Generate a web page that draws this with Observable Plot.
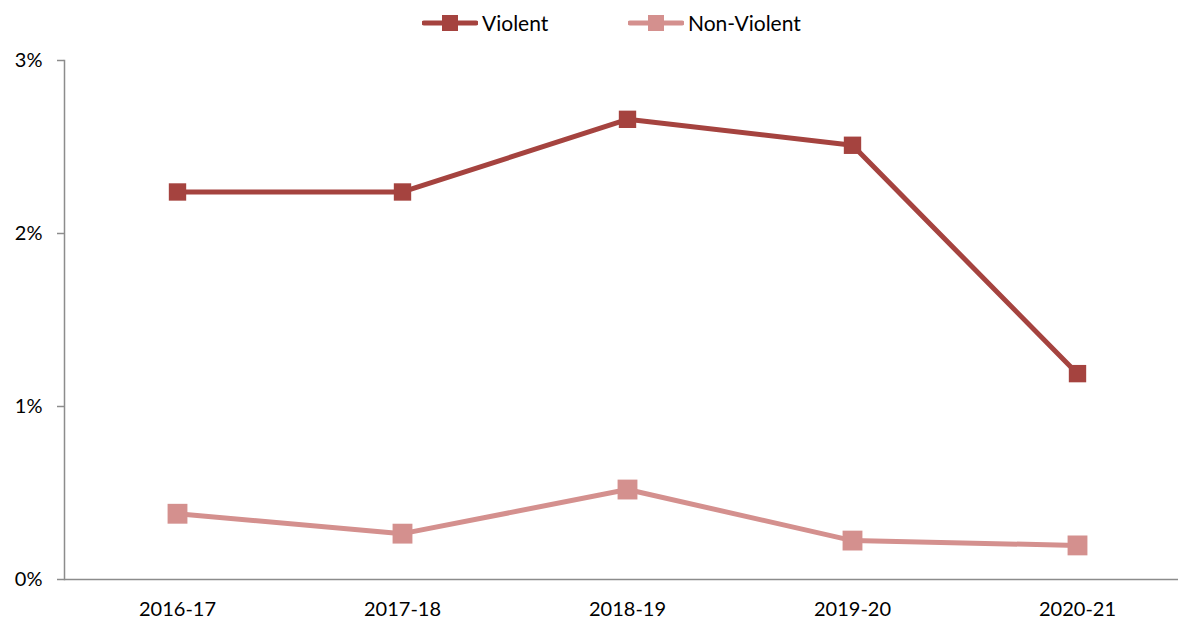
<!DOCTYPE html>
<html>
<head>
<meta charset="utf-8">
<script src="https://cdn.jsdelivr.net/npm/d3@7"></script>
<script src="https://cdn.jsdelivr.net/npm/@observablehq/plot@0.6"></script>
<style>
  html, body { margin: 0; padding: 0; background: #fff; }
  #wrap { width: 1178px; font-family: Lato, "Open Sans", sans-serif; color: #000; }
  #legend { position: relative; height: 45px; }
  .item { position: absolute; top: 10px; display: flex; align-items: center; font-size: 21px; }
  .item svg { margin-right: 4px; }
  #chart svg text { font-size: 20px; }
</style>
</head>
<body>
<div id="wrap">
  <div id="legend"></div>
  <div id="chart"></div>
</div>
<script>
const periods = ["2016-17", "2017-18", "2018-19", "2019-20", "2020-21"];
const violent = [2.24, 2.24, 2.66, 2.51, 1.19];
const nonViolent = [0.38, 0.265, 0.52, 0.225, 0.197];
const seriesNames = ["Violent", "Non-Violent"];
const seriesColors = ["#A5433F", "#D4908E"];
const yTicks = [0, 1, 2, 3];

const rows = [];
periods.forEach((p, i) => {
  rows.push({period: p, series: seriesNames[0], value: violent[i]});
  rows.push({period: p, series: seriesNames[1], value: nonViolent[i]});
});
const vRows = rows.filter(d => d.series === seriesNames[0]);
const nRows = rows.filter(d => d.series === seriesNames[1]);

// Legend
const legend = document.getElementById("legend");
const legendLeft = [422, 628];
seriesNames.forEach((name, i) => {
  const div = document.createElement("div");
  div.className = "item";
  div.style.left = legendLeft[i] + "px";
  div.innerHTML = `<svg width="56" height="20"><line x1="2" x2="54" y1="10" y2="10" stroke="${seriesColors[i]}" stroke-width="5" stroke-linecap="round"/><rect x="20" y="2" width="16" height="16" fill="${seriesColors[i]}"/></svg><span>${name}</span>`;
  legend.appendChild(div);
});

const chart = Plot.plot({
  width: 1178,
  height: 576,
  marginTop: 15,
  marginBottom: 42,
  marginLeft: 64,
  marginRight: 0,
  style: {fontFamily: "Lato, 'Open Sans', sans-serif", fontSize: "20px", color: "#000", background: "#fff"},
  x: {type: "point", domain: periods, range: [177, 1077], padding: 0, label: null},
  y: {domain: [0, 3], label: null},
  marks: [
    Plot.frame({anchor: "left", stroke: "#8c8c8c", strokeWidth: 1.5}),
    Plot.ruleY([0], {stroke: "#8c8c8c", strokeWidth: 1.5}),
    Plot.axisY({ticks: yTicks, tickFormat: d => d + "%", tickSize: 7, tickPadding: 15, stroke: "#8c8c8c", strokeWidth: 1.5, label: null, fontSize: 20}),
    Plot.axisX({tickSize: 0, tickPadding: 22, label: null, fontSize: 20}),
    Plot.line(vRows, {x: "period", y: "value", stroke: seriesColors[0], strokeWidth: 5}),
    Plot.line(nRows, {x: "period", y: "value", stroke: seriesColors[1], strokeWidth: 5}),
    Plot.dot(vRows, {x: "period", y: "value", symbol: "square", r: 9.8, fill: seriesColors[0], stroke: null}),
    Plot.dot(nRows, {x: "period", y: "value", symbol: "square", r: 11.2, fill: seriesColors[1], stroke: null})
  ]
});
document.getElementById("chart").appendChild(chart);
</script>
</body>
</html>
